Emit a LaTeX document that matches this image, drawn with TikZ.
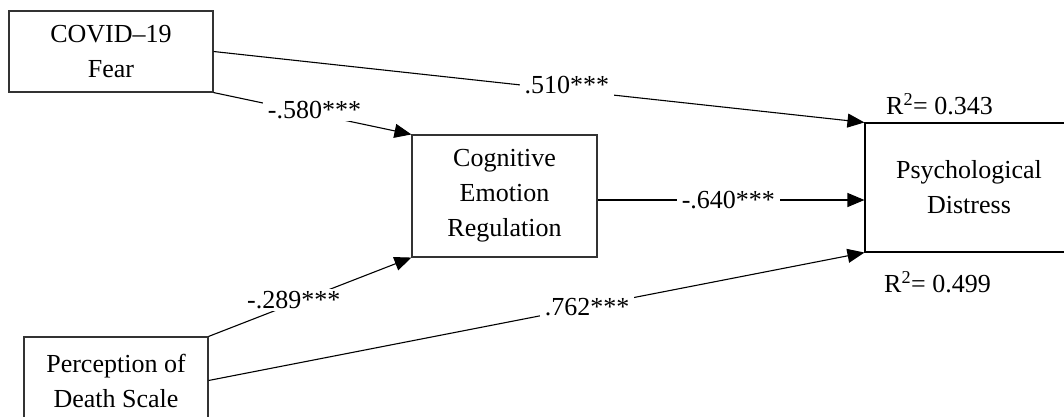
\documentclass[tikz,border=0pt]{standalone}
\usepackage{fontspec}
\setmainfont{Liberation Serif}
\usetikzlibrary{arrows.meta,calc}
\tikzset{
  box/.style={draw=black!80, line width=1.1pt, rectangle, align=center, inner sep=0pt},
  conn/.style={draw=black, line width=1.1pt, -{Triangle[length=17pt,width=14pt]}},
  lbl/.style={fill=white, inner xsep=5pt, inner ysep=2pt},
  txt/.style={font=\fontsize{26}{35}\selectfont}
}
\begin{document}
\begin{tikzpicture}[x=1pt,y=-1pt,txt]
\useasboundingbox (0,0) rectangle (1064,417);
\node[box, minimum width=204pt, minimum height=81pt] (covid) at (111,51.5) {COVID--19\\Fear};
\node[box, minimum width=185pt, minimum height=122pt] (cog) at (504.5,196) {Cognitive\\Emotion\\Regulation};
\node[box, draw=black, minimum width=208pt, minimum height=129pt] (psych) at (969,187.5) {Psychological\\Distress};
\node[box, minimum width=184pt, minimum height=87pt] (perc) at (116,380.5) {Perception of\\Death Scale};

\coordinate (cogout) at ($(cog.east)+(0,4)$);
\coordinate (psin) at (cogout -| psych.west);

\draw[conn] (covid.east) -- node[lbl, pos=0.543, yshift=5pt] {.510***} (psych.north west);
\draw[conn] (covid.south east) -- node[lbl, pos=0.51, yshift=4pt] {-.580***} (cog.north west);
\draw[conn] (perc.north east) -- node[lbl, pos=0.42, yshift=3pt] {-.289***} (cog.south west);
\draw[conn] (perc.east) -- node[lbl, pos=0.577] {.762***} (psych.south west);
\draw[conn] (cogout) -- node[lbl, pos=0.49] {-.640***} (psin);

\node (r1) at ($(psych.north west)+(75,-18)$) {R\textsuperscript{2}= 0.343};
\node (r2) at ($(psych.south west)+(73,30)$) {R\textsuperscript{2}= 0.499};
\end{tikzpicture}
\end{document}
